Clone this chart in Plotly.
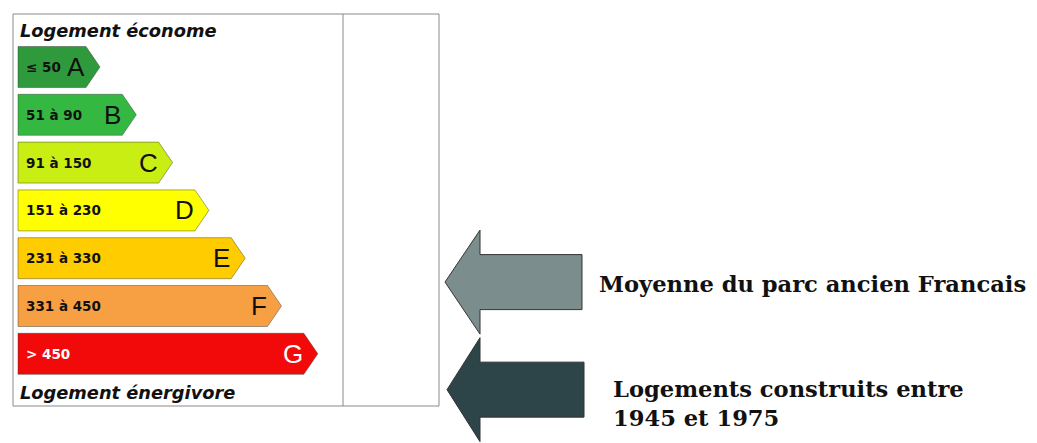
import plotly.graph_objects as go

# ── Data ──────────────────────────────────────────────────────────────────────
classes = ["A", "B", "C", "D", "E", "F", "G"]
ranges = ["≤ 50", "51 à 90", "91 à 150", "151 à 230", "231 à 330", "331 à 450", "> 450"]
class_colors = ["#2f9a3c", "#35b842", "#c8ee14", "#ffff00", "#ffcc00", "#f7a043", "#f20a0a"]
top_label = "Logement économe"
bottom_label = "Logement énergivore"

# arrows: target position on the class scale (0 = A ... 6 = G), text, colour
arrow_targets = [4.5, 6.75]
arrow_texts = ["Moyenne du parc ancien Francais", "Logements construits entre<br>1945 et 1975"]
arrow_colors = ["#7b8d8d", "#2d4448"]

# ── Geometry (pixels -> class units on y) ────────────────────────────────────
W, H = 1037, 443
OFF = 8               # page body margin
PITCH = 47.8          # px between two classes
Y0 = 67               # px centre of class A
u = 1 / PITCH         # one pixel in class units


def ypx(p):
    return (p - Y0) * u


fig = go.Figure()

# energy label bars
for i, (cls, rng, col) in enumerate(zip(classes, ranges, class_colors)):
    tip = 100 + 36.3 * i
    body = tip - 14
    h = 20.5 * u
    xs = [18, body, tip, body, 18, 18]
    ys = [i - h, i - h, i, i + h, i + h, i - h]
    fig.add_trace(go.Scatter(
        x=xs, y=ys, mode="lines", fill="toself", fillcolor=col,
        line=dict(color="rgba(60,60,60,0.45)", width=1),
        hoverinfo="skip", showlegend=False,
    ))
    fig.add_annotation(
        x=24, y=i, text=f"<b>{rng}</b>", showarrow=False, xanchor="left", yanchor="middle",
        font=dict(family="DejaVu Sans", size=13.5, color="white" if cls == "G" else "#111"),
    )
    fig.add_annotation(
        x=tip - 13, y=i, text=cls, showarrow=False, xanchor="right", yanchor="middle",
        font=dict(family="Liberation Sans", size=26,
                  color="white" if cls == "G" else "#111"),
    )

fig.add_annotation(
    x=18, y=ypx(30), text=f"<b><i>{top_label}</i></b>", showarrow=False,
    xanchor="left", yanchor="middle",
    font=dict(family="DejaVu Sans", size=17.8, color="#111"),
)
fig.add_annotation(
    x=18, y=ypx(392), text=f"<b><i>{bottom_label}</i></b>", showarrow=False,
    xanchor="left", yanchor="middle",
    font=dict(family="DejaVu Sans", size=17.8, color="#111"),
)

# frame and divider
fig.add_shape(type="rect", x0=13, x1=439, y0=ypx(14), y1=ypx(406),
              line=dict(color="#8a8a8a", width=1))
fig.add_shape(type="line", x0=343, x1=343, y0=ypx(14), y1=ypx(406),
              line=dict(color="#8a8a8a", width=1))

# big arrows pointing at the scale
arrow_tips = [445, 447]
arrow_ends = [582, 584]
text_x = [597, 611]
text_dy = [-2, -14]
for t, txt, col, tx, end, lx, dy in zip(arrow_targets, arrow_texts, arrow_colors,
                                        arrow_tips, arrow_ends, text_x, text_dy):
    head = 52 * u
    shaft = 27.5 * u
    xs = [tx, 480, 480, end, end, 480, 480, tx]
    ys = [t, t - head, t - shaft, t - shaft, t + shaft, t + shaft, t + head, t]
    fig.add_trace(go.Scatter(
        x=xs, y=ys, mode="lines", fill="toself", fillcolor=col,
        line=dict(color="#333", width=1), hoverinfo="skip", showlegend=False,
    ))
    fig.add_annotation(
        x=lx, y=t, yshift=dy, text=f"<b>{txt}</b>", showarrow=False, xanchor="left",
        yanchor="middle", align="left",
        font=dict(family="DejaVu Serif", size=22.6, color="#111"),
    )

fig.update_layout(
    width=W - OFF, height=H - OFF,
    margin=dict(l=0, r=0, t=0, b=0),
    plot_bgcolor="white", paper_bgcolor="white",
    xaxis=dict(range=[OFF, W], visible=False, fixedrange=True),
    yaxis=dict(range=[ypx(H), ypx(OFF)], visible=False, fixedrange=True),
)

fig.write_html("out.html")
